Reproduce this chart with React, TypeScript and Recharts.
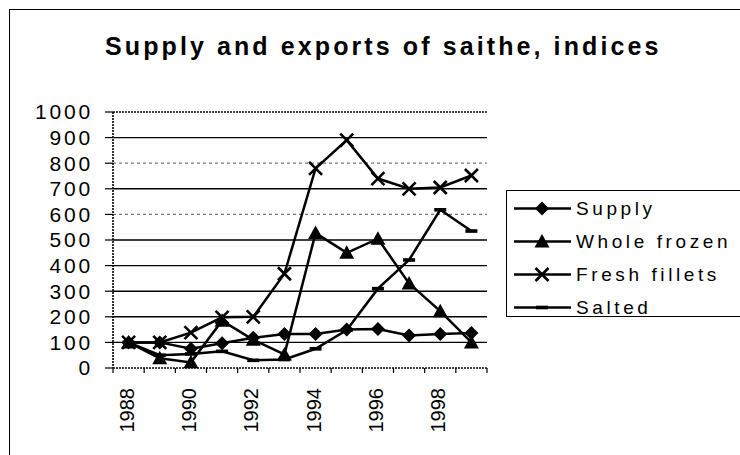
import React from 'react';
import { LineChart, Line, XAxis, YAxis, CartesianGrid } from 'recharts';

const years = [1988, 1989, 1990, 1991, 1992, 1993, 1994, 1995, 1996, 1997, 1998, 1999];
const supply = [100, 100, 75, 97, 118, 133, 133, 150, 152, 127, 133, 137];
const wholeFrozen = [100, 38, 22, 185, 110, 53, 527, 450, 505, 330, 222, 100];
const freshFillets = [100, 100, 138, 198, 200, 368, 780, 890, 740, 700, 705, 752];
const salted = [100, 50, 55, 65, 30, 33, 75, 148, 310, 422, 618, 535];

const yTicks = [0, 100, 200, 300, 400, 500, 600, 700, 800, 900, 1000];
const solidGrid = [100, 200, 300, 400, 500, 700, 900];
const faintGrid = [600, 800];
const topGrid = [1000];
const yearLabels = [1988, 1990, 1992, 1994, 1996, 1998];
// tick marks sit between categories, like the old spreadsheet axis
const yearBounds = [...years.map((y) => y - 0.5), years[years.length - 1] + 0.5];

const data = years.map((year, i) => ({
  year,
  supply: supply[i],
  wholeFrozen: wholeFrozen[i],
  freshFillets: freshFillets[i],
  salted: salted[i],
}));

const FONT = '"Liberation Sans", Arial, sans-serif';

type Shape = 'diamond' | 'triangle' | 'cross' | 'dash';

const marker = (shape: Shape, cx: number, cy: number, key?: React.Key) => {
  if (shape === 'diamond')
    return <polygon key={key} points={`${cx},${cy - 7} ${cx + 7},${cy} ${cx},${cy + 7} ${cx - 7},${cy}`} fill="#000" />;
  if (shape === 'triangle')
    return <polygon key={key} points={`${cx},${cy - 7.5} ${cx + 7.5},${cy + 6} ${cx - 7.5},${cy + 6}`} fill="#000" />;
  if (shape === 'cross')
    return (
      <g key={key} stroke="#000" strokeWidth={2.6}>
        <line x1={cx - 6.5} y1={cy - 6.5} x2={cx + 6.5} y2={cy + 6.5} />
        <line x1={cx - 6.5} y1={cy + 6.5} x2={cx + 6.5} y2={cy - 6.5} />
      </g>
    );
  return <rect key={key} x={cx - 6} y={cy - 1.8} width={12} height={3.6} fill="#000" />;
};

const series: { key: string; name: string; shape: Shape }[] = [
  { key: 'supply', name: 'Supply', shape: 'diamond' },
  { key: 'wholeFrozen', name: 'Whole frozen', shape: 'triangle' },
  { key: 'freshFillets', name: 'Fresh fillets', shape: 'cross' },
  { key: 'salted', name: 'Salted', shape: 'dash' },
];

const YearTick = (props: any) => {
  const { x, y, payload } = props;
  const tx = x - 2;
  const ty = y + 4;
  return (
    <text
      x={tx}
      y={ty}
      transform={`rotate(-90 ${tx} ${ty})`}
      textAnchor="end"
      dy="0.36em"
      fontSize={20}
      fill="#000"
      fontFamily={FONT}
    >
      {payload.value}
    </text>
  );
};

export default function App() {
  return (
    <div
      style={{
        position: 'absolute',
        left: 0,
        top: 0,
        width: 740,
        height: 455,
        overflow: 'hidden',
        background: '#fff',
        fontFamily: FONT,
      }}
    >
      <div style={{ position: 'absolute', left: 9, top: 9, width: 800, height: 600, border: '1.5px solid #000' }} />
      <div
        style={{
          position: 'absolute',
          left: 105,
          top: 32,
          fontSize: 25,
          fontWeight: 'bold',
          letterSpacing: 3.1,
          color: '#000',
          whiteSpace: 'nowrap',
        }}
      >
        Supply and exports of saithe, indices
      </div>

      <LineChart
        width={740}
        height={455}
        data={data}
        margin={{ top: 112, right: 253, bottom: 22, left: 53 }}
        style={{ position: 'absolute', left: 0, top: 0 }}
      >
        <CartesianGrid vertical={false} horizontalValues={solidGrid} stroke="#000" strokeWidth={1.4} />
        <CartesianGrid vertical={false} horizontalValues={faintGrid} stroke="#777" strokeWidth={1.2} strokeDasharray="3 3" />
        <CartesianGrid vertical={false} horizontalValues={topGrid} stroke="#000" strokeWidth={1.6} strokeDasharray="2 1" />
        <XAxis
          xAxisId="a"
          type="number"
          dataKey="year"
          domain={[yearBounds[0], yearBounds[yearBounds.length - 1]]}
          ticks={yearBounds}
          interval={0}
          height={8}
          tickSize={5}
          tickFormatter={() => ''}
          axisLine={{ stroke: '#000', strokeWidth: 1.6, strokeDasharray: '2 1' }}
          tickLine={{ stroke: '#000', strokeWidth: 1.2 }}
        />
        <XAxis
          xAxisId="b"
          type="number"
          dataKey="year"
          domain={[yearBounds[0], yearBounds[yearBounds.length - 1]]}
          ticks={yearLabels}
          interval={0}
          height={57}
          axisLine={false}
          tickLine={false}
          tick={<YearTick />}
        />
        <YAxis
          domain={[0, 1000]}
          ticks={yTicks}
          interval={0}
          width={60}
          tickSize={8}
          tickMargin={12}
          axisLine={{ stroke: '#000', strokeWidth: 1.6, strokeDasharray: '2 1' }}
          tickLine={{ stroke: '#000', strokeWidth: 1.2 }}
          tick={{ fill: '#000', fontSize: 21, letterSpacing: 2.8, fontFamily: FONT }}
        />
        <YAxis
          yAxisId="right"
          orientation="right"
          domain={[0, 1000]}
          width={0}
          tick={false}
          tickLine={false}
          axisLine={{ stroke: '#000', strokeWidth: 1.6, strokeDasharray: '2 1' }}
        />
        {series.map((s) => (
          <Line
            key={s.key}
            xAxisId="a"
            type="linear"
            dataKey={s.key}
            name={s.name}
            stroke="#000"
            strokeWidth={2.5}
            isAnimationActive={false}
            dot={(p: any) => marker(s.shape, p.cx, p.cy, `${s.key}-${p.index}`)}
            activeDot={false}
          />
        ))}
      </LineChart>

      <div
        style={{
          position: 'absolute',
          left: 506,
          top: 190,
          width: 240,
          height: 127,
          border: '1.3px solid #000',
          boxSizing: 'border-box',
          paddingTop: 1,
        }}
      >
        {series.map((s) => (
          <div key={s.key} style={{ display: 'flex', alignItems: 'center', height: 33 }}>
            <svg width={66} height={33} style={{ flex: 'none' }}>
              <line x1={7} y1={16.5} x2={64} y2={16.5} stroke="#000" strokeWidth={2.4} />
              {marker(s.shape, 35, 16.5)}
            </svg>
            <span style={{ fontSize: 19, letterSpacing: 3.6, marginLeft: 3, color: '#000', whiteSpace: 'nowrap' }}>
              {s.name}
            </span>
          </div>
        ))}
      </div>
    </div>
  );
}
